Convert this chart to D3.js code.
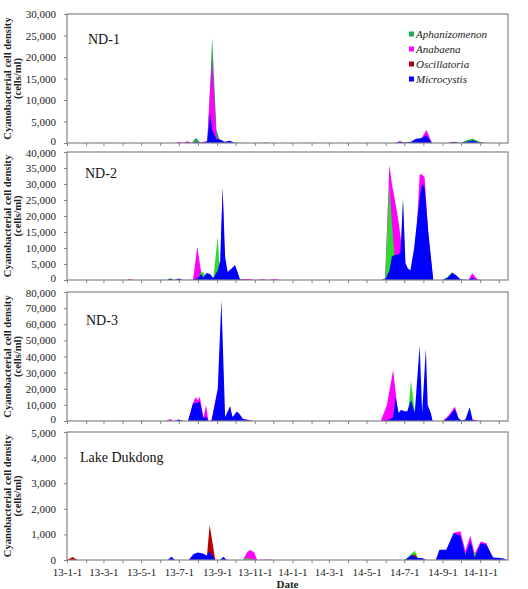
<!DOCTYPE html>
<html><head><meta charset="utf-8">
<script src="https://cdn.jsdelivr.net/npm/d3@7"></script>
<style>body{margin:0;background:#fff}svg{display:block}svg text{font-family:"Liberation Serif","Times New Roman",serif}</style>
</head><body><svg id="c" width="528" height="589"></svg>
<script>
// ---------- DATA ----------
const seriesNames = ["Aphanizomenon", "Anabaena", "Oscillatoria", "Microcystis"];
const panelLabels = ["ND-1", "ND-2", "ND-3", "Lake Dukdong"];
const panelYMax = [30000, 40000, 80000, 5000];
const panelYStep = [5000, 5000, 10000, 1000];
const xStart = "2013-01-01", xEnd = "2014-12-16";
const xTickLabels = ["13-1-1","13-3-1","13-5-1","13-7-1","13-9-1","13-11-1","14-1-1","14-3-1","14-5-1","14-7-1","14-9-1","14-11-1"];

// ND-1
const nd1Dates = ["2013-01-01","2013-06-25","2013-07-01","2013-07-08","2013-07-15","2013-07-22","2013-07-29","2013-08-05","2013-08-09","2013-08-16","2013-08-21","2013-08-24","2013-08-31","2013-09-06","2013-09-13","2013-09-22","2013-09-29","2013-10-15","2013-11-12","2013-11-18","2013-11-25",
  "2014-06-16","2014-06-24","2014-07-02","2014-07-12","2014-07-20","2014-07-28","2014-08-06","2014-08-15","2014-09-10","2014-09-18","2014-09-30","2014-10-11","2014-10-20","2014-11-01","2014-11-09","2014-12-16"];
const nd1Aph = [0,0,0,0,0,0,1200,0,0,200,14000,24500,3000,300,0,0,0,0,0,200,0, 0,400,50,0,0,0,0,0, 0,0,0,700,1000,200,0,0];
const nd1Ana = [0,0,300,0,400,0,200,150,300,300,13000,19500,1500,200,0,0,0,0,0,0,0, 0,400,0,200,500,900,3000,0, 0,300,0,0,0,0,0,0];
const nd1Osc = [0,0,0,0,0,0,0,0,0,0,0,0,0,0,0,0,0,0,0,0,0, 0,0,0,0,0,0,0,0, 0,200,0,0,0,0,0,0];
const nd1Mic = [0,0,0,0,100,0,200,0,100,400,7000,3000,900,800,300,500,50,0,0,0,0, 0,200,100,300,1000,1100,1800,0, 0,150,0,300,500,100,0,0];

// ND-2
const nd2Dates = ["2013-01-01","2013-04-08","2013-04-13","2013-04-19","2013-06-12","2013-06-17","2013-06-23","2013-07-01","2013-07-08","2013-07-24","2013-07-31","2013-08-06","2013-08-10","2013-08-15","2013-08-21","2013-08-26","2013-09-02","2013-09-06","2013-09-10","2013-09-14","2013-09-18","2013-09-24","2013-09-30","2013-10-08","2013-10-16","2013-10-24","2013-11-03","2013-11-14","2013-11-20","2013-12-04","2013-12-12",
  "2014-05-25","2014-05-31","2014-06-07","2014-06-11","2014-06-15","2014-06-22","2014-06-25","2014-06-29","2014-07-03","2014-07-07","2014-07-11","2014-07-17","2014-07-26","2014-07-30","2014-08-03","2014-08-09","2014-08-17","2014-09-01","2014-09-09","2014-09-17","2014-09-23","2014-09-30","2014-10-13","2014-10-19","2014-10-27","2014-11-01","2014-12-16"];
const nd2Aph = [0,0,0,0,0,600,0,0,0,0,0,2500,2300,1000,0,800,13500,1000,0,0,0,0,0,0,0,0,0,0,0,0,0,
  0,100,30000,18000,8000,7000,0,26000,0,0,0,0,0,0,0,0,0,0,900,2500,0,0,0,0,0,0,0];
const nd2Ana = [0,0,300,0,0,0,0,0,0,0,10400,2600,0,0,0,0,0,0,29000,0,0,0,0,0,300,300,0,300,0,300,0,
  0,600,36000,30000,26000,18000,13500,5000,0,0,0,0,33000,33000,32000,14000,0,0,0,0,0,0,0,2100,300,0,0];
const nd2Osc = [0,0,0,0,0,0,0,0,0,0,0,0,0,0,0,0,0,0,0,0,0,0,0,0,0,0,0,0,0,0,0,
  0,0,0,0,0,0,0,0,0,0,0,0,0,0,0,0,0,0,0,0,0,0,0,0,0,0,0];
const nd2Mic = [0,0,0,0,0,400,0,450,0,100,500,1800,800,2200,1800,600,3000,6000,28600,7300,2500,3500,4700,300,0,0,0,0,0,0,0,
  0,0,3000,7300,7800,8000,9000,25000,5300,3600,3000,10000,26000,30000,29000,15000,0,0,700,2300,1500,200,0,700,0,0,0];

// ND-3
const nd3Dates = ["2013-01-01","2013-06-10","2013-06-17","2013-06-23","2013-07-01","2013-07-08","2013-07-16","2013-07-24","2013-07-28","2013-08-01","2013-08-04","2013-08-10","2013-08-14","2013-08-18","2013-08-23","2013-09-02","2013-09-08","2013-09-14","2013-09-22","2013-09-26","2013-10-03","2013-10-07","2013-10-13","2013-10-24","2013-10-29",
  "2014-05-24","2014-06-03","2014-06-13","2014-06-17","2014-06-22","2014-06-26","2014-07-01","2014-07-06","2014-07-12","2014-07-18","2014-07-26","2014-07-30","2014-08-05","2014-08-08","2014-08-13","2014-08-16","2014-09-02","2014-09-11","2014-09-21","2014-09-27","2014-10-02","2014-10-08","2014-10-15","2014-10-20","2014-10-29","2014-11-03","2014-12-16"];
const nd3Aph = [0,0,0,0,0,0,0,0,0,0,0,0,0,0,0,0,0,0,0,0,0,0,0,0,0,
  0,0,0,0,0,0,0,0,25000,6000,0,0,0,0,0,0,0,0,0,0,0,0,0,0,0,0,0];
const nd3Ana = [0,0,1200,0,0,0,0,11000,14700,13000,15000,2000,10000,0,0,20000,0,0,9300,0,6000,0,1400,400,0,
  0,10000,31600,18000,0,0,0,0,0,0,0,0,0,0,0,0,0,3500,8900,1500,0,0,0,1000,300,0,0];
const nd3Osc = [0,0,0,0,0,0,0,0,0,0,0,0,0,0,0,0,0,0,0,0,0,0,0,0,0,
  0,0,0,0,0,0,0,0,0,0,0,0,0,0,0,0,0,0,0,0,0,0,0,0,0,0,0];
const nd3Mic = [0,0,200,0,1000,0,0,11000,11000,11500,12000,1500,3000,0,300,19200,75000,2500,9000,2500,5800,4500,1200,300,0,
  0,500,2000,15000,5000,7000,6000,6000,13000,5000,47000,5000,45000,10000,5000,0,0,2500,7500,1500,300,1000,8500,200,0,0,0];

// Lake Dukdong
const ldDates = ["2013-01-01","2013-01-10","2013-01-18","2013-06-13","2013-06-19","2013-06-25","2013-07-17","2013-07-25","2013-08-01","2013-08-09","2013-08-15","2013-08-20","2013-08-29","2013-09-06","2013-09-11","2013-09-17","2013-10-13","2013-10-19","2013-10-24","2013-10-31","2013-11-05","2013-11-24","2013-11-30",
  "2014-07-02","2014-07-13","2014-07-18","2014-07-24","2014-07-30","2014-08-06","2014-08-21","2014-08-27","2014-09-07","2014-09-19","2014-09-30","2014-10-08","2014-10-16","2014-10-23","2014-11-02","2014-11-11","2014-11-22","2014-12-03","2014-12-09","2014-12-14"];
const ldAph = [0,0,0,0,0,0,0,0,0,0,0,0,0,0,0,0,0,80,50,0,0,0,0,
  0,250,360,50,0,0,0,0,0,0,0,300,0,300,0,0,0,0,0,0];
const ldAna = [0,0,0,0,0,0,0,0,0,0,0,0,0,0,0,0,0,280,390,300,0,20,0,
  0,0,0,0,0,0,0,0,0,1060,1120,350,950,250,720,650,0,0,0,0];
const ldOsc = [0,120,0,0,0,0,0,0,0,0,0,1370,0,0,0,0,0,0,0,0,0,0,0,
  0,150,220,0,0,0,0,0,0,0,0,0,0,0,0,0,0,0,0,0];
const ldMic = [0,0,0,0,130,0,0,230,290,250,180,330,0,0,130,0,0,0,0,0,0,0,0,
  0,200,120,80,80,0,0,400,400,1050,950,200,750,100,650,600,100,80,60,0];

// ---------- STYLE / LAYOUT ----------
const colors = {aph: "#2edc2e", ana: "#ff00ff", osc: "#b80000", mic: "#0000ff"};
const FONT = '"Liberation Serif", "Times New Roman", serif';
const L = 67, R = 508;
const layout = [
  {top: 14,  bottom: 143, lx: 88, ly: 44, green: "#1faa55", order: ["aph","ana","osc","mic"]},
  {top: 152, bottom: 280, lx: 85, ly: 178, green: "#2edc2e", order: ["ana","aph","osc","mic"]},
  {top: 292, bottom: 421, lx: 86, ly: 325, green: "#2edc2e", order: ["ana","aph","osc","mic"]},
  {top: 432, bottom: 560, lx: 80, ly: 462, green: "#2edc2e", order: ["ana","aph","osc","mic"]}
];

const parse = d3.timeParse("%Y-%m-%d");
const parseTick = d3.timeParse("%y-%m-%d");
const panelData = [
  {dates: nd1Dates, aph: nd1Aph, ana: nd1Ana, osc: nd1Osc, mic: nd1Mic},
  {dates: nd2Dates, aph: nd2Aph, ana: nd2Ana, osc: nd2Osc, mic: nd2Mic},
  {dates: nd3Dates, aph: nd3Aph, ana: nd3Ana, osc: nd3Osc, mic: nd3Mic},
  {dates: ldDates,  aph: ldAph,  ana: ldAna,  osc: ldOsc,  mic: ldMic}
];

const svg = d3.select("#c");
const x = d3.scaleTime().domain([parse(xStart), parse(xEnd)]).range([L, R]);
const monthTicks = d3.timeMonth.range(parse(xStart), d3.timeDay.offset(parse(xEnd), 1));
const labelTicks = xTickLabels.map(s => parseTick(s));
const fmtY = d3.format(",");
const serif = sel => sel.style("font-family", FONT);

panelData.forEach((pd, i) => {
  const lay = layout[i];
  const y = d3.scaleLinear().domain([0, panelYMax[i]]).range([lay.bottom, lay.top]);
  const g = svg.append("g");
  const clipId = "clip" + i;
  svg.append("clipPath").attr("id", clipId).append("rect")
    .attr("x", L).attr("y", lay.top).attr("width", R - L).attr("height", lay.bottom - lay.top);

  const dates = pd.dates.map(parse);
  const area = d3.area().x(d => x(d.date)).y0(y(0)).y1(d => y(d.v));
  const ga = g.append("g").attr("clip-path", `url(#${clipId})`);
  lay.order.forEach(key => {
    const rows = dates.map((d, k) => ({date: d, v: pd[key][k]}));
    ga.append("path").datum(rows).attr("d", area)
      .attr("fill", key === "aph" ? lay.green : colors[key]);
  });

  // frame
  g.append("rect").attr("x", L).attr("y", lay.top).attr("width", R - L).attr("height", lay.bottom - lay.top)
    .attr("fill", "none").attr("stroke", "#858585").attr("stroke-width", 1.2);

  // y axis
  const yTicks = d3.range(0, panelYMax[i] + 1, panelYStep[i]);
  const ya = g.append("g").attr("transform", `translate(${L},0)`)
    .call(d3.axisLeft(y).tickValues(yTicks).tickFormat(fmtY).tickSize(3).tickPadding(8));
  ya.select(".domain").remove();
  ya.selectAll("line").attr("stroke", "#858585");
  ya.selectAll("text").call(serif).attr("font-size", 11).attr("fill", "#222");
  // keep neighbouring panels' end labels from colliding
  ya.selectAll(".tick text").filter(d => d === 0 && i < 3).attr("dy", "0.1em");
  ya.selectAll(".tick text").filter(d => d === panelYMax[i] && i > 0).attr("dy", "0.45em");

  // x axis ticks (monthly), labels only at bottom panel
  const xa = g.append("g").attr("transform", `translate(0,${lay.bottom})`)
    .call(d3.axisBottom(x).tickValues(monthTicks).tickSize(3).tickFormat(""));
  xa.select(".domain").remove();
  xa.selectAll("line").attr("stroke", "#858585");
  if (i === 3) {
    const xl = g.append("g").attr("transform", `translate(0,${lay.bottom})`)
      .call(d3.axisBottom(x).tickValues(labelTicks).tickSize(0).tickPadding(8)
        .tickFormat((d, k) => xTickLabels[k]));
    xl.select(".domain").remove();
    xl.selectAll("text").call(serif).attr("font-size", 11).attr("fill", "#222");
  }

  // y title
  const cy = (lay.top + lay.bottom) / 2;
  g.append("text").attr("transform", `translate(11,${cy}) rotate(-90)`).attr("text-anchor", "middle")
    .call(serif).attr("font-weight", "bold").attr("font-size", 10.6).attr("fill", "#222")
    .text("Cyanobacterial cell density");
  g.append("text").attr("transform", `translate(21,${cy}) rotate(-90)`).attr("text-anchor", "middle")
    .call(serif).attr("font-weight", "bold").attr("font-size", 10.6).attr("fill", "#222")
    .text("(cells/ml)");

  // panel label
  g.append("text").attr("x", lay.lx).attr("y", lay.ly).call(serif)
    .attr("font-size", 14).attr("fill", "#111").text(panelLabels[i]);
});

// legend (panel 1)
const legKeys = ["aph", "ana", "osc", "mic"];
const leg = svg.append("g");
legKeys.forEach((k, j) => {
  const cyL = 34 + j * 15;
  leg.append("rect").attr("x", 409).attr("y", cyL - 2.5).attr("width", 5).attr("height", 5)
    .attr("fill", k === "aph" ? layout[0].green : colors[k]);
  leg.append("text").attr("x", 416).attr("y", cyL + 3.8).call(serif)
    .attr("font-style", "italic").attr("font-size", 11).attr("fill", "#222").text(seriesNames[j]);
});

// x title
svg.append("text").attr("x", (L + R) / 2).attr("y", 588).attr("text-anchor", "middle")
  .call(serif).attr("font-weight", "bold").attr("font-size", 11).attr("fill", "#222").text("Date");
</script></body></html>
